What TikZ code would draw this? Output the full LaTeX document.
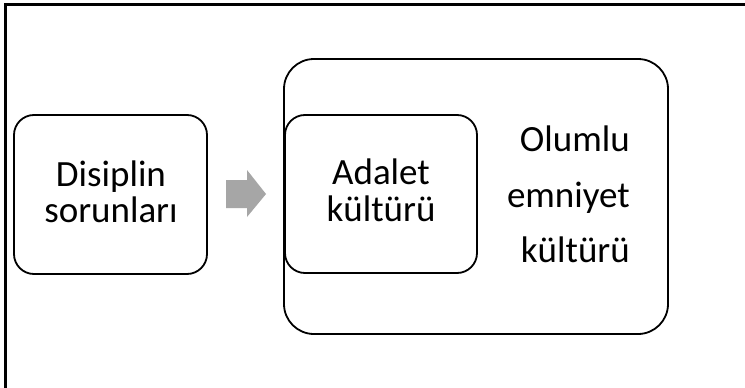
\documentclass[tikz,border=0pt]{standalone}
\usepackage{fontspec}
\setmainfont{Carlito}
\begin{document}
\begin{tikzpicture}[x=1pt,y=-1pt,
  box/.style={draw=black, line width=1.8pt, fill=white, inner sep=0pt},
  lbl/.style={font=\fontsize{37}{36.5}\selectfont, align=center, inner sep=0pt, text=black},
  rlbl/.style={font=\fontsize{37}{55.5}\selectfont, align=right, inner sep=0pt, text=black}]
\useasboundingbox (0,0) rectangle (745,388);
\fill[white] (0,0) rectangle (745,388);
\draw[line width=3pt] (745,4.5) -- (5.5,4.5) -- (5.5,388);
% left box
\node[box, minimum width=193pt, minimum height=159pt, rounded corners=20pt] (dis) at (110.5,194.5) {};
\node[lbl] (distxt) at (111,192) {Disiplin\\sorunları};
% arrow
\fill[fill={rgb,255:red,166;green,166;blue,166}] (226,180) -- (247,180) -- (247,170) -- (266,194) -- (247,217) -- (247,208) -- (226,208) -- cycle;
% outer box
\node[box, minimum width=384pt, minimum height=275pt, rounded corners=30pt] (olu) at (476,196.5) {};
% inner box
\node[box, minimum width=192pt, minimum height=158pt, rounded corners=20pt] (ada) at (381,194) {};
\node[lbl] (adatxt) at (381,190.5) {Adalet\\kültürü};
\node[rlbl, anchor=east] (olutxt) at (630,194.5) {Olumlu\\emniyet\\kültürü};
\end{tikzpicture}
\end{document}
